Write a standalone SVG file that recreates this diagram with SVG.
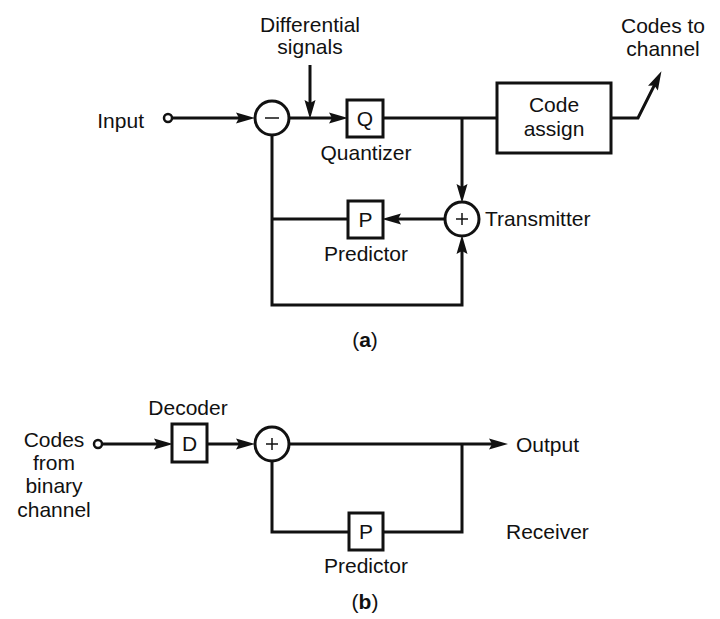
<svg xmlns="http://www.w3.org/2000/svg" width="720" height="619" viewBox="0 0 720 619">
<style>
text { font-family: "Liberation Sans", Arial, sans-serif; font-size: 21px; fill: #111; }
.m { text-anchor: middle; }
.e { text-anchor: end; }
.ln { fill: none; stroke: #111; stroke-width: 3; }
.box { fill: #fff; stroke: #111; stroke-width: 3; }
.sign { stroke: #111; stroke-width: 1.5; }
.term { fill: #fff; stroke: #111; stroke-width: 2.5; }
</style>
<defs>
<marker id="arr" markerUnits="userSpaceOnUse" markerWidth="20" markerHeight="12" refX="12" refY="5.5" orient="auto" overflow="visible">
<path d="M0,0 L19,5.5 L0,11 L3,5.5 Z" fill="#111"/>
</marker>
</defs>
<rect width="720" height="619" fill="#fff"/>

<g id="connectors">
<!-- (a) transmitter -->
<line class="ln" x1="172" y1="118" x2="248" y2="118" marker-end="url(#arr)"/>
<line class="ln" x1="289" y1="118" x2="341" y2="118" marker-end="url(#arr)"/>
<line class="ln" x1="310" y1="65" x2="310" y2="112" marker-end="url(#arr)"/>
<line class="ln" x1="383" y1="118" x2="497" y2="118"/>
<polyline class="ln" points="611,118 638,118 658.3,77.4" marker-end="url(#arr)"/>
<line class="ln" x1="462" y1="118" x2="462" y2="196" marker-end="url(#arr)"/>
<line class="ln" x1="445" y1="219" x2="389" y2="219" marker-end="url(#arr)"/>
<line class="ln" x1="348" y1="219" x2="272" y2="219"/>
<line class="ln" x1="272" y1="135" x2="272" y2="219"/>
<polyline class="ln" points="272,219 272,305 462,305 462,242" marker-end="url(#arr)"/>
<!-- (b) receiver -->
<line class="ln" x1="102" y1="444" x2="166" y2="444" marker-end="url(#arr)"/>
<line class="ln" x1="207" y1="444" x2="248" y2="444" marker-end="url(#arr)"/>
<line class="ln" x1="289" y1="444" x2="501" y2="444" marker-end="url(#arr)"/>
<polyline class="ln" points="272,461 272,532 349,532"/>
<polyline class="ln" points="383,532 462,532 462,444"/>
</g>

<g id="input-terminal">
<circle class="term" cx="168" cy="118" r="4"/>
<text class="e" x="144" y="128">Input</text>
</g>
<g id="differential-label">
<text class="m" x="310" y="32">Differential</text>
<text class="m" x="310" y="54">signals</text>
</g>
<g id="subtractor">
<circle class="box" cx="272" cy="118" r="17"/>
<line class="sign" x1="265" y1="118" x2="279" y2="118"/>
</g>
<g id="quantizer">
<rect class="box" x="347" y="100" width="36" height="37"/>
<text class="m" x="365" y="126">Q</text>
<text class="m" x="366" y="160">Quantizer</text>
</g>
<g id="code-assign">
<rect class="box" x="497" y="83" width="114" height="70"/>
<text class="m" x="554" y="112">Code</text>
<text class="m" x="554" y="136">assign</text>
</g>
<g id="codes-to-channel">
<text class="m" x="663" y="33">Codes to</text>
<text class="m" x="663" y="56">channel</text>
</g>
<g id="adder-a">
<circle class="box" cx="462" cy="219" r="17"/>
<line class="sign" x1="456" y1="219" x2="468" y2="219"/>
<line class="sign" x1="462" y1="213" x2="462" y2="225"/>
<text x="485" y="226">Transmitter</text>
</g>
<g id="predictor-a">
<rect class="box" x="348" y="201" width="35" height="37"/>
<text class="m" x="365.5" y="227">P</text>
<text class="m" x="366" y="261">Predictor</text>
</g>
<text class="m" x="365" y="347">(<tspan font-weight="bold">a</tspan>)</text>

<g id="codes-terminal">
<circle class="term" cx="98" cy="444" r="4"/>
<text class="m" x="54" y="447">Codes</text>
<text class="m" x="54" y="470">from</text>
<text class="m" x="54" y="493">binary</text>
<text class="m" x="54" y="517">channel</text>
</g>
<g id="decoder">
<rect class="box" x="172" y="424" width="35" height="38"/>
<text class="m" x="189.5" y="451">D</text>
<text class="m" x="188" y="415">Decoder</text>
</g>
<g id="adder-b">
<circle class="box" cx="272" cy="444" r="17"/>
<line class="sign" x1="266" y1="444" x2="278" y2="444"/>
<line class="sign" x1="272" y1="438" x2="272" y2="450"/>
</g>
<g id="output-label">
<text x="516" y="452">Output</text>
</g>
<g id="predictor-b">
<rect class="box" x="349" y="513" width="34" height="37"/>
<text class="m" x="366" y="539">P</text>
<text class="m" x="366" y="573">Predictor</text>
</g>
<g id="receiver-label">
<text x="506" y="539">Receiver</text>
</g>
<text class="m" x="365" y="609">(<tspan font-weight="bold">b</tspan>)</text>
</svg>
